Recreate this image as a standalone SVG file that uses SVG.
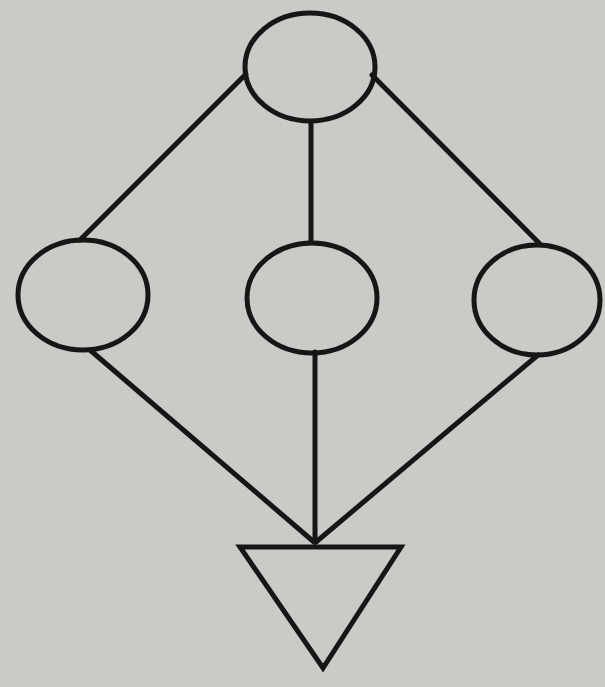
<svg xmlns="http://www.w3.org/2000/svg" width="605" height="687" viewBox="0 0 605 687">
<style>
.n{fill:none;stroke:#161616;stroke-width:5}
.e{fill:none;stroke:#161616;stroke-width:5;stroke-linecap:round}
</style>
<rect width="605" height="687" fill="#cbcac7"/>
<g id="edges">
<line class="e" x1="246" y1="74" x2="80" y2="240"/>
<line class="e" x1="311" y1="122" x2="311" y2="242"/>
<line class="e" x1="372" y1="75" x2="540" y2="244"/>
<line class="e" x1="90" y1="350" x2="314" y2="542"/>
<line class="e" x1="315" y1="352" x2="315" y2="542"/>
<line class="e" x1="538" y1="355" x2="316" y2="542"/>
</g>
<g id="top"><ellipse class="n" cx="310" cy="67" rx="65" ry="54"/></g>
<g id="left"><ellipse class="n" cx="83" cy="295" rx="65" ry="55"/></g>
<g id="middle"><ellipse class="n" cx="312" cy="298" rx="65" ry="55"/></g>
<g id="right"><ellipse class="n" cx="537" cy="300" rx="63" ry="55"/></g>
<g id="sink"><polygon class="n" stroke-width="6" stroke-linejoin="miter" points="240,547 401,547 323,668"/></g>
</svg>
